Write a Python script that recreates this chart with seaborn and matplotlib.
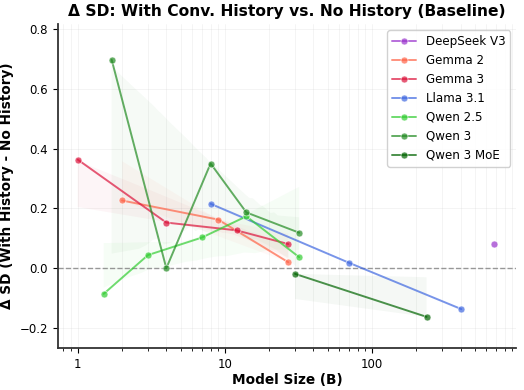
import numpy as np
import seaborn as sns
import matplotlib.pyplot as plt
from matplotlib.ticker import FuncFormatter

# model families, sizes (billions of params) and delta SD (with history - no history)
families = ["DeepSeek V3", "Gemma 2", "Gemma 3", "Llama 3.1", "Qwen 2.5", "Qwen 3", "Qwen 3 MoE"]
sizes = {
    "DeepSeek V3": [671],
    "Gemma 2": [2, 9, 27],
    "Gemma 3": [1, 4, 12, 27],
    "Llama 3.1": [8, 70, 405],
    "Qwen 2.5": [1.5, 3, 7, 14, 32],
    "Qwen 3": [1.7, 4, 8, 14, 32],
    "Qwen 3 MoE": [30, 235],
}
delta_sd = {
    "DeepSeek V3": [0.079],
    "Gemma 2": [0.226, 0.162, 0.019],
    "Gemma 3": [0.363, 0.152, 0.126, 0.080],
    "Llama 3.1": [0.215, 0.017, -0.138],
    "Qwen 2.5": [-0.087, 0.043, 0.102, 0.173, 0.036],
    "Qwen 3": [0.698, -0.001, 0.350, 0.186, 0.118],
    "Qwen 3 MoE": [-0.020, -0.164],
}
colors = {
    "DeepSeek V3": "darkorchid",
    "Gemma 2": "tomato",
    "Gemma 3": "crimson",
    "Llama 3.1": "royalblue",
    "Qwen 2.5": "limegreen",
    "Qwen 3": "forestgreen",
    "Qwen 3 MoE": "darkgreen",
}

sns.set_style("ticks")
plt.rcParams['font.family'] = ['DejaVu Sans']
plt.rcParams['text.color'] = 'black'
plt.rcParams['axes.labelcolor'] = 'black'
plt.rcParams['xtick.color'] = 'black'
plt.rcParams['ytick.color'] = 'black'

fig, ax = plt.subplots(figsize=(5.24, 3.9), dpi=100)
ax.set_xscale("log")

# faint regression bands (log-linear fit)
for fam in families:
    x = np.array(sizes[fam], dtype=float)
    y = np.array(delta_sd[fam], dtype=float)
    if len(x) < 2:
        continue
    n_before = len(ax.collections)
    sns.regplot(x=x, y=y, logx=True, scatter=False, ci=68, seed=1, n_boot=500,
                color=colors[fam], line_kws={"alpha": 0}, ax=ax)
    for coll in ax.collections[n_before:]:
        coll.set_alpha(0.04)
        coll.set_edgecolor("none")

for fam in families:
    sns.lineplot(x=sizes[fam], y=delta_sd[fam], color=colors[fam], marker="o",
                 markersize=5, markeredgewidth=0.6, linewidth=1.4, alpha=0.7,
                 label=fam, ax=ax)

ax.axhline(0, color="gray", linestyle="--", linewidth=1, alpha=0.8, zorder=1)

ax.set_xlim(0.73, 955)
ax.set_ylim(-0.268, 0.817)
ax.set_yticks([-0.2, 0.0, 0.2, 0.4, 0.6, 0.8])
ax.xaxis.set_major_formatter(FuncFormatter(lambda v, p: f"{v:g}"))
ax.grid(True, which="both", alpha=0.3, linewidth=0.5)
ax.tick_params(labelsize=8.5)
ax.tick_params(which="minor", length=2)

for s in ["top", "right"]:
    ax.spines[s].set_visible(False)
for s in ["left", "bottom"]:
    ax.spines[s].set_linewidth(1.3)
    ax.spines[s].set_color("#333333")

ax.set_title("Δ SD: With Conv. History vs. No History (Baseline)",
             fontsize=11.2, fontweight="bold")
ax.set_xlabel("Model Size (B)", fontsize=9.8, fontweight="bold", labelpad=2)
ax.set_ylabel("Δ SD (With History - No History)", fontsize=9.8, fontweight="bold")
ax.legend(loc="upper right", fontsize=8.6, framealpha=0.9)

plt.subplots_adjust(left=0.11, right=0.985, top=0.938, bottom=0.108)
fig.savefig("out.png")
